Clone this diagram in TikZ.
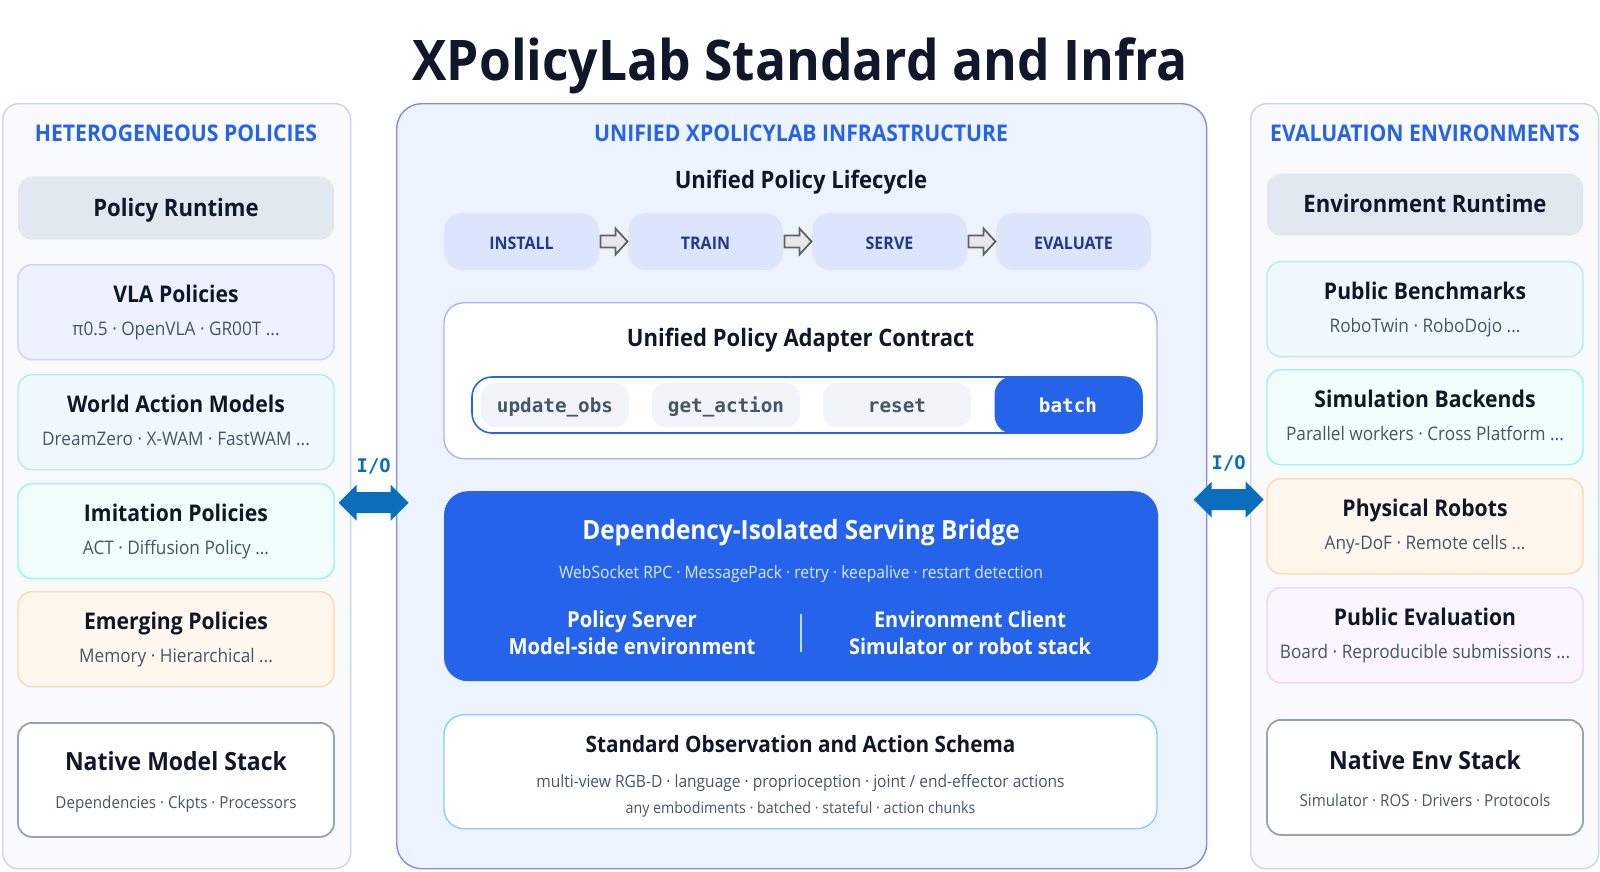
\documentclass[tikz,border=0pt]{standalone}
\usepackage{fontspec}
\setmainfont{Open Sans}[FakeStretch=0.92]
\setmonofont{DejaVu Sans Mono}
\usetikzlibrary{positioning,calc}

\definecolor{ink}{HTML}{0F172A}
\definecolor{subgray}{HTML}{475569}
\definecolor{hblue}{HTML}{2563EB}
\definecolor{panelfill}{HTML}{F8FAFC}
\definecolor{paneldraw}{HTML}{CBD5E1}
\definecolor{runtime}{HTML}{E2E8F0}
\definecolor{infrafill}{HTML}{EEF4FF}
\definecolor{infradraw}{HTML}{7C8CF5}
\definecolor{stagefill}{HTML}{DDE5FD}
\definecolor{stagetext}{HTML}{1E3A8A}
\definecolor{adapterdraw}{HTML}{A5B4FC}
\definecolor{pillfill}{HTML}{F1F5F9}
\definecolor{bridgesub}{HTML}{DBEAFE}
\definecolor{bridgeline}{HTML}{BFDBFE}
\definecolor{schemadraw}{HTML}{7DD3FC}
\definecolor{iocolor}{HTML}{0A6EBD}
\definecolor{arrowgray}{HTML}{5F6368}
\definecolor{arrowfill}{HTML}{E8E8E8}
\definecolor{nativedraw}{HTML}{94A3B8}
\definecolor{indigofill}{HTML}{EEF2FF}
\definecolor{indigodraw}{HTML}{C7D2FE}
\definecolor{skyfill}{HTML}{F0F9FF}
\definecolor{skydraw}{HTML}{BAE6FD}
\definecolor{tealfill}{HTML}{F0FDFA}
\definecolor{tealdraw}{HTML}{99F6E4}
\definecolor{orangefill}{HTML}{FFF7ED}
\definecolor{orangedraw}{HTML}{FED7AA}
\definecolor{purplefill}{HTML}{FAF5FF}
\definecolor{purpledraw}{HTML}{E9D5FF}

\newcommand\fsz[1]{\fontsize{#1}{#1}\selectfont}

\tikzset{
  panel/.style={rounded corners=16pt, line width=1.4pt, inner sep=0pt, anchor=north west},
  card/.style={rounded corners=14pt, line width=1.4pt, inner sep=0pt, minimum width=316pt, minimum height=95pt, anchor=north},
  head/.style={font=\bfseries\fsz{23}, text=hblue, anchor=base},
  ctitle/.style={font=\bfseries\fsz{23}, text=ink, anchor=base},
  csub/.style={font=\fsz{18.7}, text=subgray, anchor=base},
  bigtitle/.style={font=\bfseries\fsz{25}, text=ink, anchor=base},
  bigsub/.style={font=\fsz{16.5}, text=subgray, anchor=base},
  sechead/.style={font=\bfseries\fsz{24}, text=ink, anchor=base},
  stage/.style={rounded corners=18pt, fill=stagefill, inner sep=0pt, minimum width=155pt, minimum height=57pt},
  pill/.style={rounded corners=14pt, fill=pillfill, inner sep=0pt, minimum width=148pt, minimum height=44pt},
  method/.style={font=\ttfamily\bfseries\fsz{19.3}, text=subgray, anchor=base},
  white/.style={text=white, anchor=base},
  io/.pic={\fill[iocolor] (-35,0) -- (-17,-18) -- (-17,-10.5) -- (17,-10.5) -- (17,-18) -- (35,0)
           -- (17,18) -- (17,10.5) -- (-17,10.5) -- (-17,18) -- cycle;},
  flow/.pic={\draw[arrowgray, fill=arrowfill, line width=1.8pt] (-13,-6) -- (2,-6) -- (2,-13) -- (14,0)
           -- (2,13) -- (2,6) -- (-13,6) -- cycle;}
}

\begin{document}
\begin{tikzpicture}[x=1pt,y=-1pt]
    \useasboundingbox[fill=white] (0,0) rectangle (1600,871);

    \node[font=\bfseries\fsz{56}, text=ink, anchor=base] (title) at (800,80) {XPolicyLab Standard and Infra};

    % three columns
    \node[panel, fill=panelfill, draw=paneldraw, minimum width=348pt, minimum height=765pt] (policies) at (2,103) {};
    \node[panel, fill=infrafill, draw=infradraw, rounded corners=25pt, minimum width=810pt, minimum height=765pt] (infra) at (396,103) {};
    \node[panel, fill=panelfill, draw=paneldraw, minimum width=348pt, minimum height=765pt] (envs) at (1250,103) {};

    \node[head] at (176,141) {HETEROGENEOUS POLICIES};
    \node[head] at (801,141) {UNIFIED XPOLICYLAB INFRASTRUCTURE};
    \node[head] at (1425,141) {EVALUATION ENVIRONMENTS};

    % left column
    \node[card, fill=runtime, minimum height=63pt] (polrt) at (176,176) {};
    \node[font=\bfseries\fsz{24}, text=ink, anchor=base] at (176,216) {Policy Runtime};
    \foreach \n/\top/\fc/\dc/\t/\s in {
        vla/264/indigofill/indigodraw/{VLA Policies}/{π0.5 · OpenVLA · GR00T ...},
        wam/374/skyfill/skydraw/{World Action Models}/{DreamZero · X-WAM · FastWAM ...},
        imit/483/tealfill/tealdraw/{Imitation Policies}/{ACT · Diffusion Policy ...},
        emerg/591/orangefill/orangedraw/{Emerging Policies}/{Memory · Hierarchical ...}} {
        \node[card, fill=\fc, draw=\dc] (\n) at (176,\top) {};
        \node[ctitle] at ($(\n.north)+(0,38.5)$) {\t};
        \node[csub] at ($(\n.north)+(0,71)$) {\s};
    }
    \node[card, fill=white, draw=nativedraw, line width=1.8pt, minimum height=114pt] (nmodel) at (176,722) {};
    \node[bigtitle] at (176,770) {Native Model Stack};
    \node[bigsub] at (176,808) {Dependencies · Ckpts · Processors};

    % right column
    \node[card, fill=runtime, minimum height=62pt] (envrt) at (1425,173) {};
    \node[font=\bfseries\fsz{24}, text=ink, anchor=base] at (1425,212) {Environment Runtime};
    \foreach \n/\top/\fc/\dc/\t/\s in {
        bench/261/skyfill/skydraw/{Public Benchmarks}/{RoboTwin · RoboDojo ...},
        sim/369/tealfill/tealdraw/{Simulation Backends}/{Parallel workers · Cross Platform ...},
        robots/478/orangefill/orangedraw/{Physical Robots}/{Any-DoF · Remote cells ...},
        board/587/purplefill/purpledraw/{Public Evaluation}/{Board · Reproducible submissions ...}} {
        \node[card, fill=\fc, draw=\dc] (\n) at (1425,\top) {};
        \node[ctitle] at ($(\n.north)+(0,38.5)$) {\t};
        \node[csub] at ($(\n.north)+(0,71)$) {\s};
    }
    \node[card, fill=white, draw=nativedraw, line width=1.8pt, minimum height=115pt] (nenv) at (1425,719) {};
    \node[bigtitle] at (1425,769) {Native Env Stack};
    \node[bigsub] at (1425,806) {Simulator · ROS · Drivers · Protocols};

    % lifecycle
    \node[sechead] at (801,188) {Unified Policy Lifecycle};
    \foreach \n/\x/\t in {install/521.5/INSTALL, train/705.5/TRAIN, serve/889.5/SERVE, evaluate/1073.5/EVALUATE} {
        \node[stage] (\n) at (\x,241.5) {};
        \node[font=\bfseries\fsz{17.4}, text=stagetext, anchor=base] at (\x,249) {\t};
    }
    \pic at ($(install.east)!0.5!(train.west)$) {flow};
    \pic at ($(train.east)!0.5!(serve.west)$) {flow};
    \pic at ($(serve.east)!0.5!(evaluate.west)$) {flow};

    % adapter contract
    \node[fill=white, draw=adapterdraw, line width=1.4pt, rounded corners=20pt, inner sep=0pt,
          minimum width=713pt, minimum height=156pt, anchor=north] (adapter) at (800.5,302) {};
    \node[sechead] at (800.5,346) {Unified Policy Adapter Contract};
    \node[draw=hblue, line width=1.6pt, rounded corners=20pt, inner sep=0pt,
          minimum width=670pt, minimum height=56pt] (methods) at (807,405) {};
    \foreach \n/\x/\t in {updobs/555/update\_obs, getact/726/get\_action, rst/897/reset} {
        \node[pill] (\n) at (\x,405) {};
        \node[method] at (\x,412) {\t};
    }
    \node[rounded corners=18pt, fill=hblue, inner sep=0pt, minimum width=148pt, minimum height=57pt,
          anchor=east] (batch) at (methods.east) {};
    \node[method, text=white] at (1068,412) {batch};

    % serving bridge
    \node[fill=hblue, rounded corners=24pt, inner sep=0pt, minimum width=714pt, minimum height=190pt,
          anchor=north] (bridge) at (801,491) {};
    \node[white, font=\bfseries\fsz{26.5}] at (801,539) {Dependency-Isolated Serving Bridge};
    \node[font=\fsz{17}, text=bridgesub, anchor=base] at (801,578)
        {WebSocket RPC · MessagePack · retry · keepalive · restart detection};
    \node[white, font=\bfseries\fsz{22}] (server) at (632,627) {Policy Server};
    \node[white, font=\bfseries\fsz{22}] at (632,654) {Model-side environment};
    \node[white, font=\bfseries\fsz{21.6}] (client) at (970,627) {Environment Client};
    \node[white, font=\bfseries\fsz{21.6}] at (970,654) {Simulator or robot stack};
    \draw[bridgeline, line width=2pt] (bridge.center |- 0,614) -- (bridge.center |- 0,652);

    % observation / action schema
    \node[fill=white, draw=schemadraw, line width=1.4pt, rounded corners=20pt, inner sep=0pt,
          minimum width=713pt, minimum height=114pt, anchor=north] (schema) at (800.5,714) {};
    \node[font=\bfseries\fsz{22.5}, text=ink, anchor=base] at (800.5,752) {Standard Observation and Action Schema};
    \node[font=\fsz{16.9}, text=subgray, anchor=base] at (800.5,787)
        {multi-view RGB-D · language · proprioception · joint / end-effector actions};
    \node[font=\fsz{15.5}, text=subgray, anchor=base] at (800.5,813)
        {any embodiments · batched · stateful · action chunks};

    % I/O links
    \coordinate (iol) at ($(policies.east)!0.5!(infra.west)+(0,16.5)$);
    \coordinate (ior) at ($(infra.east)!0.5!(envs.west)+(0,13.5)$);
    \pic at (iol) {io};
    \pic at (ior) {io};
    \node[font=\ttfamily\bfseries\fsz{18.8}, text=iocolor, anchor=base] at ($(iol)+(0,-30)$) {I/O};
    \node[font=\ttfamily\bfseries\fsz{18.8}, text=iocolor, anchor=base] at ($(ior)+(0,-30)$) {I/O};
\end{tikzpicture}
\end{document}
